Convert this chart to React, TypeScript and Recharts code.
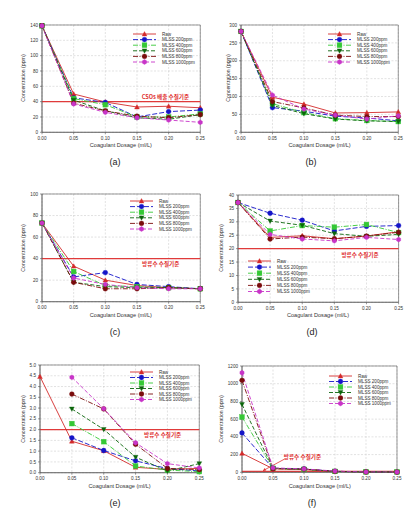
import React from 'react';
import { LineChart, Line, XAxis, YAxis, CartesianGrid, ReferenceLine, ReferenceArea, Legend } from 'recharts';

const dosage = [0, 0.05, 0.1, 0.15, 0.2, 0.25];
const xTicks = [0, 0.05, 0.1, 0.15, 0.2, 0.25];
const seriesNames = ['Raw', 'MLSS 200ppm', 'MLSS 400ppm', 'MLSS 600ppm', 'MLSS 800ppm', 'MLSS 1000ppm'];

// (a)
const aRaw = [139, 50, 39.5, 33, 34, 32];
const a200 = [139, 45, 39, 20, 27, 29];
const a400 = [139, 44, 36, 20, 20, 24];
const a600 = [139, 42, 28, 19, 17, 23];
const a800 = [139, 38, 28, 21, 19, 23];
const a1000 = [139, 37, 26, 19, 16, 13];
const aTicks = [0, 20, 40, 60, 80, 100, 120, 140];

// (b)
const bRaw = [282, 98, 79, 54, 55, 57];
const b200 = [282, 69, 59, 45, 40, 32];
const b400 = [282, 80, 55, 38, 33, 30];
const b600 = [282, 75, 52, 37, 32, 30];
const b800 = [282, 86, 68, 48, 44, 44];
const b1000 = [282, 104, 65, 48, 37, 46];
const bTicks = [0, 50, 100, 150, 200, 250, 300];

// (c)
const cRaw = [73, 33, 20, 15, 13, 12];
const c200 = [73, 23, 27, 16, 14, 12];
const c400 = [73, 28, 15, 14, 13, 12];
const c600 = [73, 18, 14, 13, 13, 12];
const c800 = [73, 18, 12, 12, 13, 12];
const c1000 = [73, 22, 16, 13, 12, 12];
const cTicks = [0, 20, 40, 60, 80, 100];

// (d)
const dRaw = [37.2, 24.2, 24.8, 23.7, 24.7, 26.3];
const d200 = [37.2, 33.2, 30.6, 26.6, 28.3, 28.6];
const d400 = [37.2, 26.6, 28.6, 28, 29, 26];
const d600 = [37.2, 30.3, 28.7, 25.6, 24.6, 25.3];
const d800 = [37.2, 23.6, 24.3, 23.7, 24.7, 26.1];
const d1000 = [37.2, 25.3, 23.6, 22.9, 24.2, 23.4];
const dTicks = [0, 5, 10, 15, 20, 25, 30, 35, 40];

// (e)
const eRaw = [4.46, 1.46, 1.02, 0.25, 0.15, 0.2];
const e200 = [null, 1.62, 1.03, 0.55, 0.19, 0.08];
const e400 = [null, 2.28, 1.44, 0.31, 0.12, 0.05];
const e600 = [null, 2.96, 2.01, 0.72, 0.08, 0.42];
const e800 = [null, 3.65, 2.96, 1.32, 0.2, 0.14];
const e1000 = [null, 4.43, 2.97, 1.39, 0.42, 0.22];
const eTicks = [0, 0.5, 1, 1.5, 2, 2.5, 3, 3.5, 4, 4.5, 5];

// (f)
const fRaw = [214, 40, 30, 10, 4, 4];
const f200 = [444, 45, 38, 11, 4, 3];
const f400 = [624, 45, 32, 10, 4, 3];
const f600 = [767, 45, 36, 11, 4, 3];
const f800 = [1038, 40, 36, 11, 4, 3];
const f1000 = [1124, 50, 38, 14, 4, 3];
const fTicks = [0, 200, 400, 600, 800, 1000, 1200];

const styles = [
  { color: '#d42a2a', dash: undefined as string | undefined, shape: 'tri' },
  { color: '#1414c8', dash: '5 2', shape: 'circle' },
  { color: '#35c835', dash: '5 1.5 1 1.5', shape: 'square' },
  { color: '#0b650b', dash: '4 2', shape: 'triDown' },
  { color: '#7a0c0c', dash: '5 1.5 1 1.5', shape: 'circle' },
  { color: '#c834c8', dash: '4 2', shape: 'hex' },
];

function Marker({ cx, cy, color, shape }: { cx: number; cy: number; color: string; shape: string }) {
  const r = 2.4;
  if (shape === 'tri') {
    return <polygon points={`${cx},${cy - r} ${cx - r},${cy + r * 0.8} ${cx + r},${cy + r * 0.8}`} fill={color} stroke={color} strokeWidth={0.4} />;
  }
  if (shape === 'triDown') {
    return <polygon points={`${cx},${cy + r} ${cx - r},${cy - r * 0.8} ${cx + r},${cy - r * 0.8}`} fill={color} stroke={color} strokeWidth={0.4} />;
  }
  if (shape === 'square') {
    return <rect x={cx - r} y={cy - r} width={2 * r} height={2 * r} fill={color} stroke={color} strokeWidth={0.4} />;
  }
  if (shape === 'hex') {
    const pts = [0, 1, 2, 3, 4, 5].map((k) => {
      const a = (Math.PI / 3) * k + Math.PI / 6;
      return `${cx + r * Math.cos(a)},${cy + r * Math.sin(a)}`;
    }).join(' ');
    return <polygon points={pts} fill={color} stroke={color} strokeWidth={0.4} />;
  }
  return <circle cx={cx} cy={cy} r={r} fill={color} stroke={color} strokeWidth={0.4} />;
}

type PanelCfg = {
  id: string;
  x0: number; x1: number; y0: number; y1: number;
  yMax: number; yTicks: number[]; yDigits: number;
  series: (number | null)[][];
  refY?: number; refText?: string; refFx?: number; refDy?: number;
  arrow?: { fromX: number; fromY: number; toX: number; toY: number };
  legend: { x: number; y: number; gap: number };
  yTitleX: number; xTitleY: number; subX: number; subY: number;
};

const FONT = 'Liberation Sans, Arial, sans-serif';
const KFONT = '"Noto Sans CJK KR", "Noto Sans", sans-serif';

const panels: PanelCfg[] = [
  { id: 'a', x0: 41.7, x1: 200, y0: 24.7, y1: 132, yMax: 140, yTicks: aTicks, yDigits: 0,
    series: [aRaw, a200, a400, a600, a800, a1000], refY: 40, refText: 'CSOs 배출 수질기준', refFx: 0.78, refDy: -4.7,
    legend: { x: 133, y: 33.7, gap: 5.6 }, yTitleX: 24, xTitleY: 146, subX: 115, subY: 162 },
  { id: 'b', x0: 241, x1: 398.3, y0: 24.7, y1: 132, yMax: 300, yTicks: bTicks, yDigits: 0,
    series: [bRaw, b200, b400, b600, b800, b1000],
    legend: { x: 328.3, y: 33.7, gap: 5.6 }, yTitleX: 229, xTitleY: 146, subX: 311, subY: 162 },
  { id: 'c', x0: 41.7, x1: 200, y0: 194.3, y1: 302, yMax: 100, yTicks: cTicks, yDigits: 0,
    series: [cRaw, c200, c400, c600, c800, c1000], refY: 40, refText: '방류수 수질기준', refFx: 0.75, refDy: 5.3,
    legend: { x: 130, y: 200.7, gap: 5.6 }, yTitleX: 24, xTitleY: 316, subX: 115, subY: 332 },
  { id: 'd', x0: 237.7, x1: 398.3, y0: 194.7, y1: 302, yMax: 40, yTicks: dTicks, yDigits: 0,
    series: [dRaw, d200, d400, d600, d800, d1000], refY: 20, refText: '방류수 수질기준', refFx: 0.76, refDy: 6,
    legend: { x: 247.7, y: 260.7, gap: 6.1 }, yTitleX: 221.7, xTitleY: 316, subX: 312, subY: 332 },
  { id: 'e', x0: 40, x1: 199.3, y0: 365, y1: 472.7, yMax: 5, yTicks: eTicks, yDigits: 1,
    series: [eRaw, e200, e400, e600, e800, e1000], refY: 2, refText: '방류수 수질기준', refFx: 0.77, refDy: 5,
    legend: { x: 130, y: 372.3, gap: 5.5 }, yTitleX: 24, xTitleY: 486.7, subX: 115, subY: 503 },
  { id: 'f', x0: 242.3, x1: 397.3, y0: 366, y1: 472.3, yMax: 1200, yTicks: fTicks, yDigits: 0,
    series: [fRaw, f200, f400, f600, f800, f1000], refY: 10, refText: '방류수 수질기준', refFx: 0.39, refDy: -14.5,
    arrow: { fromX: 285, fromY: 459, toX: 263.3, toY: 470.7 },
    legend: { x: 329, y: 376, gap: 5.5 }, yTitleX: 221.7, xTitleY: 486.7, subX: 312, subY: 503 },
];

const YW = 24;
const TOPM = 6;
const RIGHTM = 8;
const XH = 14;

function LegendBox({ gap }: { gap: number }) {
  return (
    <svg width={75} height={gap * 6 + 2} style={{ overflow: 'visible', display: 'block' }}>
      {seriesNames.map((n, i) => {
        const y = 1 + i * gap;
        const s = styles[i];
        return (
          <g key={n}>
            <line x1={0} x2={23} y1={y} y2={y} stroke={s.color} strokeWidth={0.9} strokeDasharray={s.dash} />
            <Marker cx={11.5} cy={y} color={s.color} shape={s.shape} />
            <text x={29} y={y} dominantBaseline="central" fontSize={4.6} fill="#333" fontFamily={FONT}>{n}</text>
          </g>
        );
      })}
    </svg>
  );
}

function Panel({ cfg }: { cfg: PanelCfg }) {
  const L = cfg.x0 - YW;
  const T = cfg.y0 - TOPM;
  const W = cfg.x1 + RIGHTM - L;
  const H = cfg.y1 + XH - T;
  const data = dosage.map((x, i) => {
    const row: Record<string, number | null> = { x };
    cfg.series.forEach((s, k) => { row['s' + k] = s[i]; });
    return row;
  });
  const plotW = cfg.x1 - cfg.x0;
  const refLabel = (props: any) => {
    const vb = props.viewBox || {};
    const lx = vb.x + (cfg.refFx || 0.5) * plotW;
    const ly = vb.y + (cfg.refDy || 0);
    return (
      <g>
        <text x={lx} y={ly} textAnchor="middle" dominantBaseline="central" fontSize={5.6} fontWeight="bold" fill="#e0302f" fontFamily={KFONT}>
          {cfg.refText}
        </text>
        {cfg.arrow ? (
          <g>
            <line x1={cfg.arrow.fromX - L} y1={cfg.arrow.fromY - T} x2={cfg.arrow.toX - L} y2={cfg.arrow.toY - T} stroke="#e0302f" strokeWidth={0.8} />
            <polygon
              points={`${cfg.arrow.toX - L},${cfg.arrow.toY - T} ${cfg.arrow.toX - L + 3.2},${cfg.arrow.toY - T - 0.2} ${cfg.arrow.toX - L + 1.6},${cfg.arrow.toY - T - 2.6}`}
              fill="#e0302f"
            />
          </g>
        ) : null}
      </g>
    );
  };
  const plotCx = (cfg.x0 + cfg.x1) / 2;
  const plotCy = (cfg.y0 + cfg.y1) / 2;
  return (
    <>
      <div style={{ position: 'absolute', left: L, top: T }}>
        <LineChart width={W} height={H} data={data} margin={{ top: TOPM, right: RIGHTM, left: 0, bottom: 0 }} style={{ overflow: 'visible' }}>
          <CartesianGrid stroke="#c4c4c4" strokeDasharray="2 1.5" strokeWidth={0.5} />
          <XAxis dataKey="x" type="number" domain={[0, 0.25]} ticks={xTicks} interval={0} height={XH}
            tickFormatter={(v: number) => v.toFixed(2)} tick={{ fontSize: 4.6, fill: '#333', fontFamily: FONT }}
            tickSize={2} tickMargin={2} axisLine={{ stroke: '#555', strokeWidth: 0.6 }} tickLine={{ stroke: '#555', strokeWidth: 0.6 }} />
          <YAxis type="number" domain={[0, cfg.yMax]} ticks={cfg.yTicks} interval={0} width={YW}
            tickFormatter={(v: number) => v.toFixed(cfg.yDigits)} tick={{ fontSize: 4.6, fill: '#333', fontFamily: FONT }}
            tickSize={2} tickMargin={2} axisLine={{ stroke: '#555', strokeWidth: 0.6 }} tickLine={{ stroke: '#555', strokeWidth: 0.6 }} />
          <ReferenceArea x1={0} x2={0.25} y1={0} y2={cfg.yMax} fill="none" stroke="#555" strokeWidth={0.6} ifOverflow="visible" />
          {cfg.refY !== undefined ? (
            <ReferenceLine y={cfg.refY} stroke="#e03a3a" strokeWidth={1.2} label={refLabel} ifOverflow="visible" />
          ) : null}
          {cfg.series.map((_, k) => {
            const s = styles[k];
            return (
              <Line key={k} dataKey={'s' + k} name={seriesNames[k]} stroke={s.color} strokeWidth={0.9}
                strokeDasharray={s.dash} isAnimationActive={false}
                dot={(p: any) => {
                  if (p.cx == null || p.cy == null || p.value == null) return <g key={`d${k}-${p.index}`} />;
                  return <g key={`d${k}-${p.index}`}><Marker cx={p.cx} cy={p.cy} color={s.color} shape={s.shape} /></g>;
                }}
                activeDot={false} />
            );
          })}
          <Legend layout="vertical" align="center" verticalAlign="middle"
            wrapperStyle={{ left: cfg.legend.x - L, top: cfg.legend.y - T - 1, width: 75 }}
            content={() => <LegendBox gap={cfg.legend.gap} />} />
        </LineChart>
      </div>
      <div style={{ position: 'absolute', left: cfg.yTitleX, top: plotCy, transform: 'translate(-50%, -50%) rotate(-90deg)',
        whiteSpace: 'nowrap', fontSize: 5.2, color: '#333', fontFamily: FONT, lineHeight: 1 }}>
        Concentration (ppm)
      </div>
      <div style={{ position: 'absolute', left: plotCx, top: cfg.xTitleY, transform: 'translate(-50%, -50%)',
        whiteSpace: 'nowrap', fontSize: 5.6, color: '#333', fontFamily: FONT, lineHeight: 1 }}>
        Coagulant Dosage (ml/L)
      </div>
      <div style={{ position: 'absolute', left: cfg.subX, top: cfg.subY, transform: 'translate(-50%, -50%)',
        whiteSpace: 'nowrap', fontSize: 9, color: '#222', fontFamily: FONT, lineHeight: 1 }}>
        ({cfg.id})
      </div>
    </>
  );
}

export default function App() {
  return (
    <div style={{ position: 'absolute', left: 0, top: 0, width: 419, height: 514, background: '#fff', overflow: 'hidden' }}>
      {panels.map((p) => <Panel key={p.id} cfg={p} />)}
    </div>
  );
}
